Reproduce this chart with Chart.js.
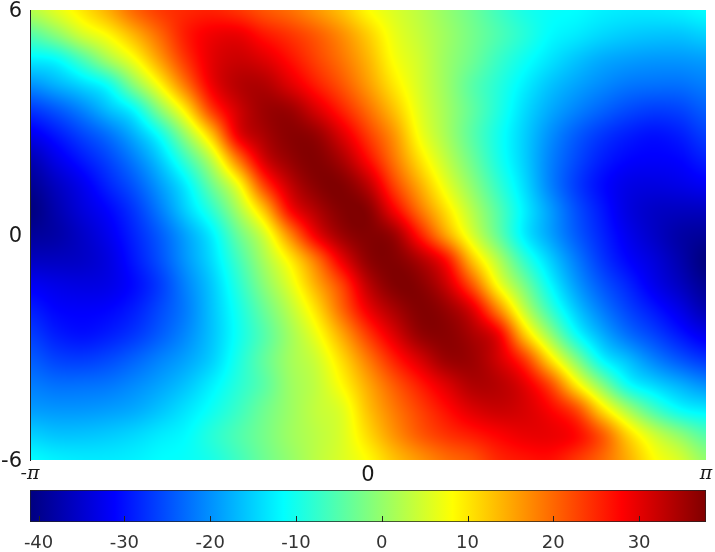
<!DOCTYPE html>
<html><head><meta charset="utf-8">
<script src="https://cdn.jsdelivr.net/npm/chart.js@4"></script>
<style>html,body{margin:0;padding:0;background:#fff}canvas{position:absolute;left:0;top:0}</style>
</head><body>
<canvas id="heat" width="715" height="552"></canvas>
<canvas id="bar" width="715" height="552"></canvas>
<script>
const xCells=[-3.1416,-2.9,-2.6584,-2.4168,-2.1752,-1.9336,-1.692,-1.4504,-1.2088,-0.9672,-0.7256,-0.484,-0.2416,0,0.2416,0.484,0.7256,0.9672,1.2088,1.4504,1.692,1.9336,2.1752,2.4168,2.6584,2.9,3.1416];
const yCells=[6,5.3333,4.6667,4,3.3333,2.6667,2,1.3333,0.6667,0,-0.6667,-1.3333,-2,-2.6667,-3.3333,-4,-4.6667,-5.3333,-6];
const r00=[2.5,6,10,14.5,20,23.5,25,25.5,24,21.5,19.5,16.5,13,8.5,5.5,3,0,-3,-6.5,-9.5,-11,-11.5,-12.5,-13,-13,-12.5,-11.5];
const r01=[-5,-1,4.5,8.5,14,20,26,29,29.5,26.5,24,21,17,12,6.8,3.7,0.7,-2.4,-5.5,-8.6,-11.6,-13,-14.5,-15.5,-16,-16,-15];
const r02=[-12.8,-11.5,-6,1,7.5,15.7,24,30,32,30.5,27,23,19,14,8,4.5,0.5,-3,-7,-10.5,-13.5,-16,-18,-19,-19.5,-19.5,-19];
const r03=[-20,-17.5,-14.5,-10.5,-1,8.5,19,29,33.5,34,30.5,26,21.5,16,10,5,0.5,-4.5,-8.5,-12.5,-16,-18.5,-20.5,-22,-22.5,-22.5,-21.5];
const r04=[-27,-24.5,-21,-16.5,-11.5,-1,10,23.5,31.5,35.5,35.5,31,25.5,19.5,13,6,1,-4,-9,-14,-18,-21,-23.5,-25.5,-26.5,-26,-24];
const r05=[-32.5,-29.5,-26,-22.5,-17.5,-10.5,0.5,13,29,34.5,37,36,30.5,23.5,16.5,7.5,1.5,-4.5,-10,-15,-20,-24,-27,-29,-30,-29,-26.5];
const r06=[-37,-33,-29.5,-26,-21.5,-15.5,-7,3.5,18.5,31,36,37.5,34.5,27.5,19,10.5,3.5,-3,-9.5,-15,-21,-25.5,-29,-31,-31.5,-31,-29];
const r07=[-39.5,-36,-32.5,-28.5,-24.5,-19,-12.5,-3,7.5,23,32.5,37,37.5,33,23,14.5,6.5,-0.5,-7.5,-14,-21,-26.5,-30.5,-33,-33.5,-33,-32];
const r08=[-41,-37.5,-34,-31,-27,-21.5,-15,-8,1.5,13,27.5,34,37.5,37,28.5,19,10.5,2.5,-5,-12.5,-19,-25,-29.5,-33.5,-35.5,-36,-36];
const r09=[-39,-38,-35.5,-32.5,-28.5,-24,-18.5,-12.5,-3.5,5,17.5,29,35.5,37.5,35.5,26,15.5,5.5,-3.5,-12.5,-18.5,-24,-28.5,-32.5,-35.5,-38,-39];
const r10=[-36,-36,-35.5,-33.5,-29.5,-25,-19.5,-14,-6.5,1.5,9.5,19,29.5,36.5,37.5,34,27,13,2.5,-7.5,-15,-21.5,-27,-31,-34,-37.5,-41];
const r11=[-32,-33,-33.5,-33,-30.5,-26.5,-21,-15.5,-8.5,-1,6,14.5,23,33,37.5,37,32,21.5,8,-2,-11.5,-19,-24.5,-28.5,-32.5,-36,-39.5];
const r12=[-29,-31,-31.5,-31,-29,-25.5,-21.5,-16,-10,-3.5,3,10.5,20,29,34.5,37.5,36,30.5,18,4,-7,-15.5,-21.5,-26,-29.5,-33,-37];
const r13=[-26.5,-29,-30,-29,-27,-24,-20.5,-16,-10.5,-5,1,7,15,23.5,30.5,36,37,34.5,29,13,0.5,-10.5,-17.5,-22.5,-26,-29.5,-32.5];
const r14=[-24,-26,-26.5,-25.5,-23.5,-21,-18.5,-15,-9.5,-4,1,4.5,11,18.5,25.5,31,35.5,35.5,31.5,24,11,-1,-11.5,-16.5,-21,-24.5,-27];
const r15=[-21.5,-22.5,-22.5,-22,-20.5,-18.5,-16,-12.5,-8.5,-4.5,0.5,3.5,8.5,15,21,26,30.5,34,33.5,30,22.5,10,-1,-10.5,-14.5,-17.5,-20];
const r16=[-19,-19.5,-19.5,-19,-18,-16,-13.5,-10.5,-7,-3,0.5,3.5,6,13,18.5,23,27,30.5,32,31,28,22.5,11,1.5,-6,-11,-12.8];
const r17=[-15,-16,-16,-15.5,-14.5,-13,-11.6,-8.6,-5.5,-2.4,0.7,3,5.5,11,16.5,21,24,26,28,29.5,29.5,27.5,21,11.5,4.5,-0.5,-5];
const r18=[-11.5,-12.5,-13,-13,-12.5,-11.5,-11,-9.5,-6.5,-3,0,3,5.5,8.5,13,16.5,19.5,21.5,25,26.5,27,24,20,14.5,8.5,5,0];
const grid=[r00,r01,r02,r03,r04,r05,r06,r07,r08,r09,r10,r11,r12,r13,r14,r15,r16,r17,r18];
const xTicks=[-3.1416,0,3.1416];
const xLabels=['-π','0','π'];
const yTicks=[-6,0,6];
const yLabels=['-6','0','6'];
const barTicks=[-40,-30,-20,-10,0,10,20,30];
const barRange=[-41,37.8];
const jetValues=[-41,-31.15,-11.45,8.25,27.95,37.8];
const jetColors=[[0,0,128],[0,0,255],[0,255,255],[255,255,0],[255,0,0],[128,0,0]];

function jet(v){
  const n=jetValues.length;
  if(v<=jetValues[0])return jetColors[0];
  if(v>=jetValues[n-1])return jetColors[n-1];
  let i=0;while(v>jetValues[i+1])i++;
  const t=(v-jetValues[i])/(jetValues[i+1]-jetValues[i]);
  const a=jetColors[i],b=jetColors[i+1];
  return [a[0]+(b[0]-a[0])*t,a[1]+(b[1]-a[1])*t,a[2]+(b[2]-a[2])*t];
}
function css(c){return 'rgb('+Math.round(c[0])+','+Math.round(c[1])+','+Math.round(c[2])+')';}

const points=[];const pointColors=[];
yCells.forEach((y,j)=>xCells.forEach((x,i)=>{points.push({x:x,y:y});pointColors.push(css(jet(grid[j][i])));}));

function cr(a,b,c,d,t){return b+0.5*t*(c-a+t*(2*a-5*b+4*c-d+t*(3*(b-c)+d-a)));}
const smoothCells={id:'smoothCells',afterDatasetsDraw(chart){
  const {ctx,chartArea:ca,scales:{x:sx,y:sy}}=chart;
  const L=Math.round(ca.left),T=Math.round(ca.top),W=Math.round(ca.right)-L,H=Math.round(ca.bottom)-T;
  const img=ctx.createImageData(W,H),d=img.data;
  const nx=xCells.length,ny=yCells.length;
  const x0=sx.getPixelForValue(xCells[0]),x1=sx.getPixelForValue(xCells[nx-1]);
  const y0=sy.getPixelForValue(yCells[0]),y1=sy.getPixelForValue(yCells[ny-1]);
  const cl=(v,m)=>v<0?0:v>m?m:v;
  for(let py=0;py<H;py++){
    const fy=cl((T+py+0.5-y0)/(y1-y0)*(ny-1),ny-1.0001),j=Math.floor(fy),ty=fy-j;
    for(let px=0;px<W;px++){
      const fx=cl((L+px+0.5-x0)/(x1-x0)*(nx-1),nx-1.0001),i=Math.floor(fx),tx=fx-i;
      const rows=[];
      for(let k=-1;k<=2;k++){
        const r=grid[cl(j+k,ny-1)];
        rows.push(cr(r[cl(i-1,nx-1)],r[i],r[cl(i+1,nx-1)],r[cl(i+2,nx-1)],tx));
      }
      const c=jet(cr(rows[0],rows[1],rows[2],rows[3],ty));
      const o=(py*W+px)*4;d[o]=c[0];d[o+1]=c[1];d[o+2]=c[2];d[o+3]=255;
    }
  }
  ctx.putImageData(img,L,T);
}};
const noPad=s=>{s.paddingLeft=0;s.paddingRight=0;s.paddingTop=0;s.paddingBottom=0;};

new Chart(document.getElementById('heat'),{
  type:'scatter',
  data:{datasets:[{data:points,pointStyle:'rect',pointRadius:14,pointHoverRadius:14,borderWidth:0,backgroundColor:pointColors}]},
  plugins:[smoothCells],
  options:{
    responsive:false,animation:false,devicePixelRatio:1,
    layout:{autoPadding:false,padding:{left:0,top:10,right:9,bottom:0}},
    plugins:{legend:{display:false},tooltip:{enabled:false}},
    scales:{
      x:{type:'linear',min:xCells[0],max:xCells[xCells.length-1],
        grid:{display:false,drawTicks:false,tickLength:0},border:{display:false},
        afterBuildTicks:s=>{s.ticks=xTicks.map(v=>({value:v}));},
        afterFit:s=>{s.height=92;noPad(s);},
        ticks:{autoSkip:false,maxRotation:0,minRotation:0,padding:3,color:'#1a1a1a',
          callback:(v,i)=>xLabels[i],
          font:c=>c.index===1?{family:'DejaVu Sans',size:21}:{family:'DejaVu Serif',size:19,style:'italic'}}},
      y:{type:'linear',min:-6,max:6,
        grid:{display:false,drawTicks:false,tickLength:0},border:{display:true,color:'#222',width:1,z:1},
        afterBuildTicks:s=>{s.ticks=yTicks.map(v=>({value:v}));},
        afterFit:s=>{s.width=30;noPad(s);},
        ticks:{autoSkip:false,padding:8,labelOffset:2,color:'#1a1a1a',callback:(v,i)=>yLabels[i],font:{family:'DejaVu Sans',size:21}}}
    }
  }
});

const barMarks={id:'barMarks',afterDatasetsDraw(chart){
  const {ctx,chartArea:ca,scales:{x}}=chart;
  ctx.save();ctx.strokeStyle='#222';ctx.lineWidth=1;
  barTicks.forEach(v=>{const p=Math.round(x.getPixelForValue(v))+0.5;ctx.beginPath();ctx.moveTo(p,ca.bottom);ctx.lineTo(p,ca.bottom-6);ctx.stroke();});
  ctx.restore();
}};
new Chart(document.getElementById('bar'),{
  type:'bar',
  data:{labels:['v'],datasets:[{data:[barRange],barPercentage:1,categoryPercentage:1,borderWidth:1,borderColor:'#222',borderSkipped:false,
    backgroundColor:c=>{
      const ca=c.chart.chartArea;if(!ca)return '#000';
      const s=c.chart.scales.x,g=c.chart.ctx.createLinearGradient(s.left,0,s.right,0);
      jetValues.forEach((v,i)=>g.addColorStop((v-barRange[0])/(barRange[1]-barRange[0]),css(jetColors[i])));
      return g;}}]},
  plugins:[barMarks],
  options:{
    indexAxis:'y',responsive:false,animation:false,devicePixelRatio:1,
    layout:{autoPadding:false,padding:{left:30,top:490,right:9,bottom:0}},
    plugins:{legend:{display:false},tooltip:{enabled:false}},
    scales:{
      x:{type:'linear',min:barRange[0],max:barRange[1],
        grid:{display:false,drawTicks:false,tickLength:0},border:{display:false},
        afterBuildTicks:s=>{s.ticks=barTicks.map(v=>({value:v}));},
        afterFit:s=>{s.height=30;noPad(s);},
        ticks:{autoSkip:false,maxRotation:0,minRotation:0,padding:11,color:'#333',font:{family:'DejaVu Sans',size:18}}},
      y:{display:false}
    }
  }
});
</script>
</body></html>
